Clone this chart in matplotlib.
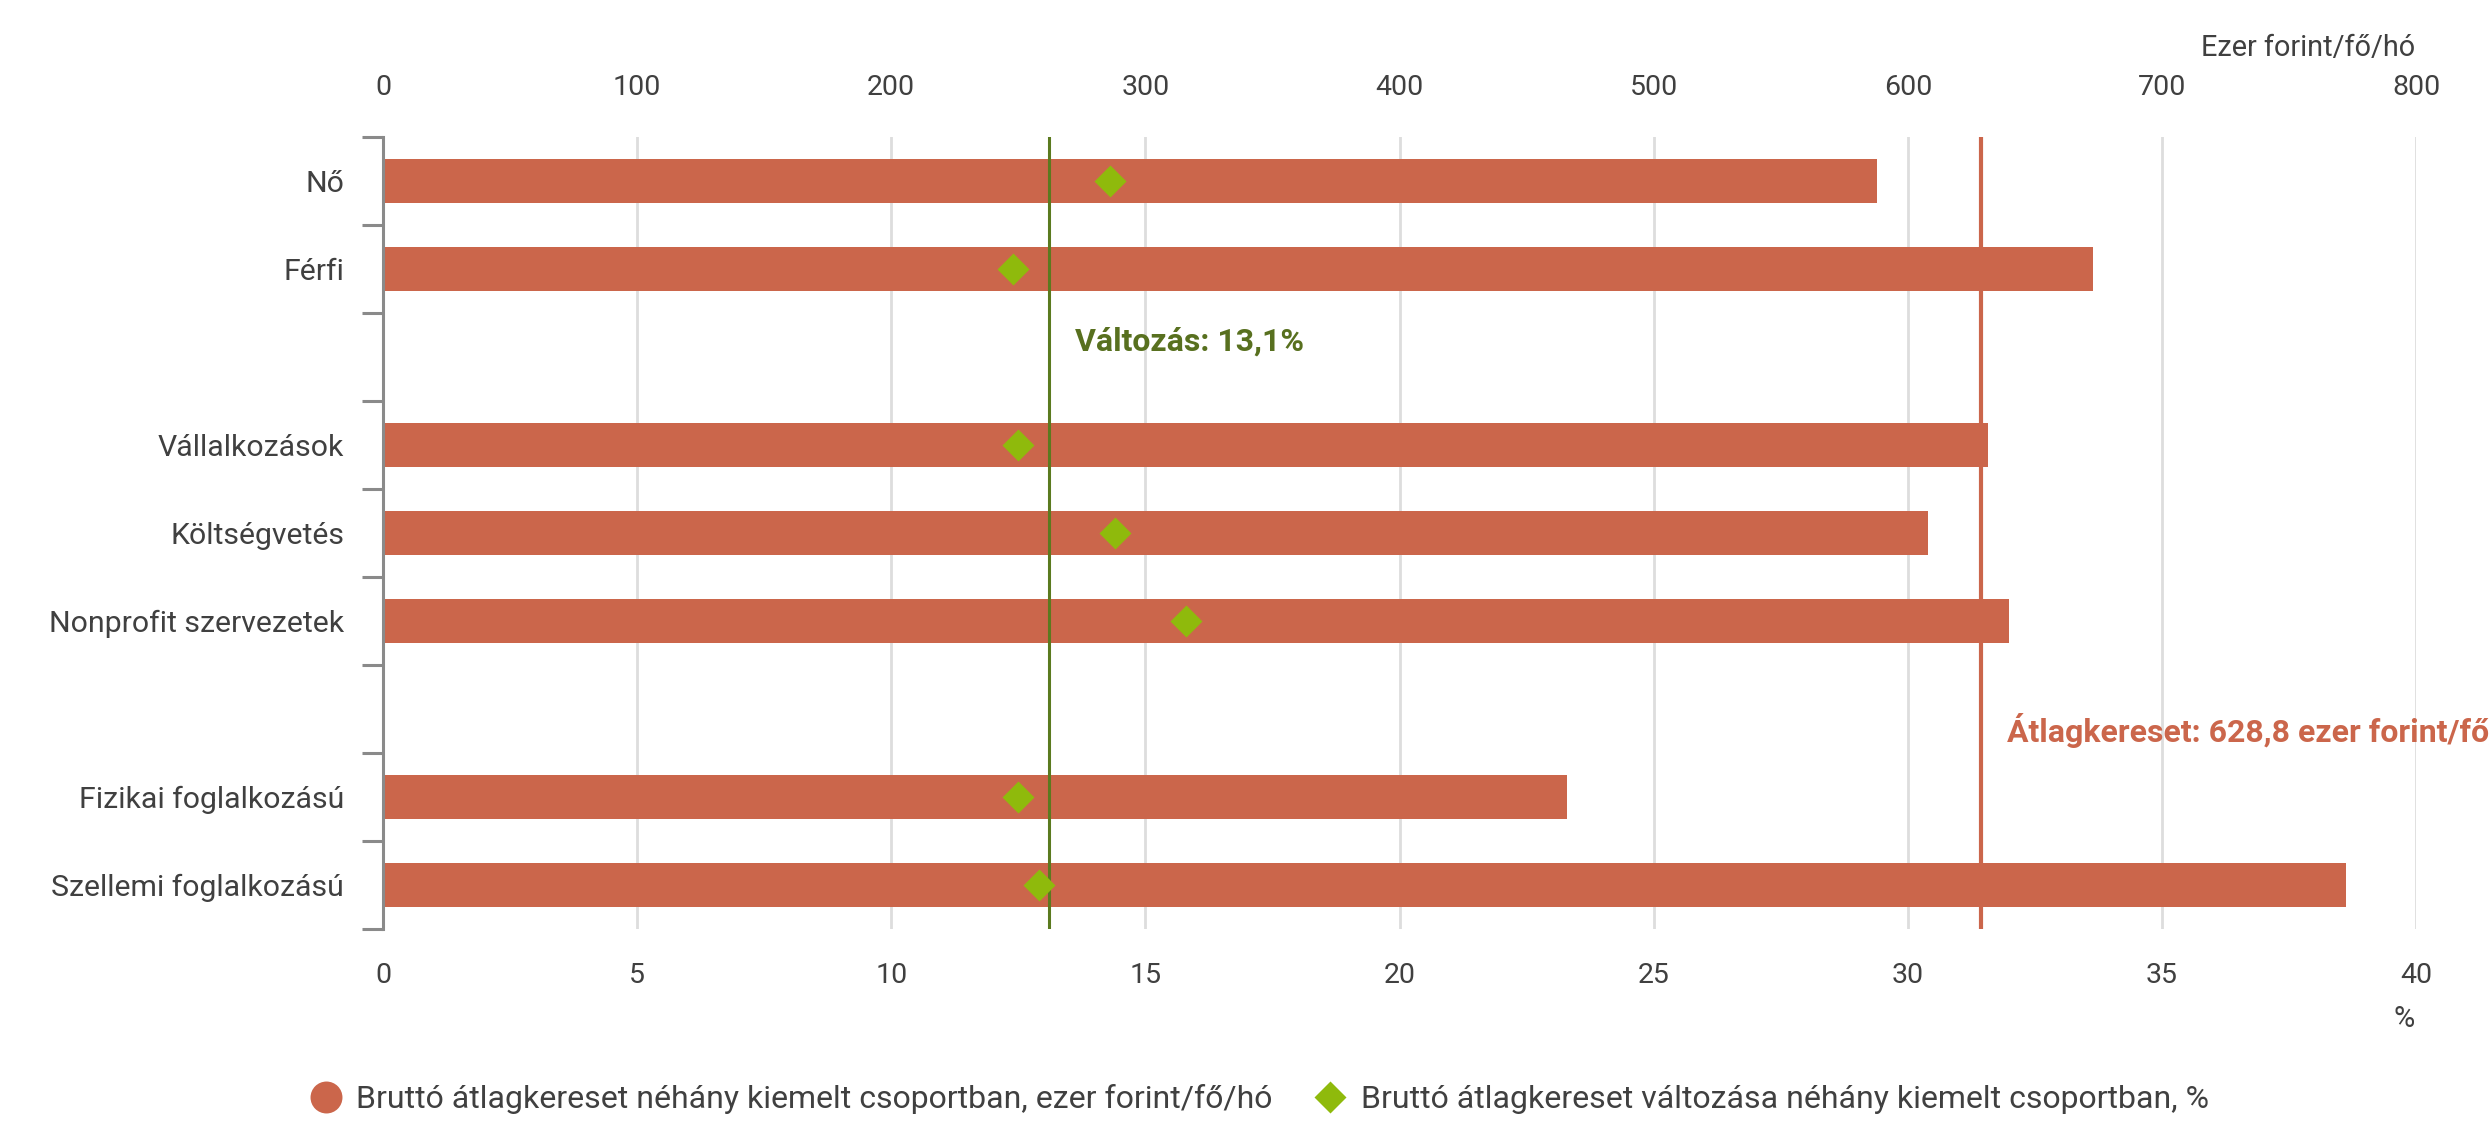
import numpy as np
import matplotlib
matplotlib.use("Agg")
import matplotlib.pyplot as plt
from matplotlib.lines import Line2D

plt.rcParams['font.family'] = ['Roboto', 'DejaVu Sans']

# data (blank entries are the gaps between the groups)
categories = ["Nő", "Férfi", "", "Vállalkozások", "Költségvetés", "Nonprofit szervezetek",
              "", "Fizikai foglalkozású", "Szellemi foglalkozású"]
salary = [588, 673, np.nan, 631.5, 608, 640, np.nan, 466, 772.5]      # ezer forint/fő/hó
change = [14.3, 12.4, np.nan, 12.5, 14.4, 15.8, np.nan, 12.5, 12.9]   # %
avg_salary = 628.8
avg_change = 13.1

salary_ticks = [0, 100, 200, 300, 400, 500, 600, 700, 800]
pct_ticks = [0, 5, 10, 15, 20, 25, 30, 35, 40]

bar_col = "#cb664b"
dia_col = "#8fba0c"
green_line = "#5b7a1f"
txt_col = "#404040"

fig = plt.figure(figsize=(24.89, 11.26), dpi=100)
ax = fig.add_axes([0.1539, 0.175, 0.8168, 0.7033])
ax2 = ax.twiny()

y = np.arange(len(categories))
ax.barh(y, salary, height=0.49, color=bar_col, zorder=2)
ax.axvline(avg_salary, color=bar_col, lw=3, zorder=3)

ax2.axvline(avg_change, color=green_line, lw=2.2, zorder=3)
ax2.plot(change, y, linestyle="none", marker="D", ms=16, color=dia_col, mec="none", zorder=4)

ax.set_xlim(0, 800)
ax2.set_xlim(0, 40)
ax.set_ylim(len(categories) - 0.5, -0.5)

# top axis: salary
ax.xaxis.tick_top()
ax.set_xticks(salary_ticks)
ax.tick_params(axis="x", length=0, pad=26, labelsize=20.5, labelcolor=txt_col)
ax.grid(axis="x", color="#dddddd", lw=2, zorder=0)
ax.set_axisbelow(True)

# bottom axis: percent
ax2.xaxis.set_ticks_position("bottom")
ax2.xaxis.set_label_position("bottom")
ax2.set_xticks(pct_ticks)
ax2.tick_params(axis="x", length=0, pad=24, labelsize=20.5, labelcolor=txt_col)

# category axis
ax.set_yticks(y)
ax.set_yticklabels(categories)
ax.set_yticks(np.arange(len(categories) + 1) - 0.5, minor=True)
ax.tick_params(axis="y", which="major", length=0, pad=28, labelsize=21.8, labelcolor=txt_col)
ax.tick_params(axis="y", which="minor", length=15, width=2.2, color="#8a8a8a")

for a in (ax, ax2):
    for s in ["top", "right", "bottom"]:
        a.spines[s].set_visible(False)
ax2.spines["left"].set_visible(False)
ax.spines["left"].set_color("#8a8a8a")
ax.spines["left"].set_linewidth(2.2)

ax2.annotate("Változás: 13,1%", xy=(avg_change, 1.82), xytext=(19, 0), textcoords="offset points",
             ha="left", va="center", fontsize=23, fontweight="bold", color="#58701f")
ax.annotate("Átlagkereset: 628,8 ezer forint/fő/hó", xy=(avg_salary, 6.24), xytext=(19, 0),
            textcoords="offset points", ha="left", va="center", fontsize=23,
            fontweight="bold", color=bar_col, annotation_clip=False)

fig.text(0.9703, 1 - 48 / 1126, "Ezer forint/fő/hó", ha="right", va="center", fontsize=20.8, color=txt_col)
fig.text(0.9703, 1 - 1019 / 1126, "%", ha="right", va="center", fontsize=20.8, color=txt_col)

handles = [
    Line2D([], [], linestyle="none", marker="o", ms=23, color=bar_col, mec="none"),
    Line2D([], [], linestyle="none", marker="D", ms=16, color=dia_col, mec="none"),
]
labels = ["Bruttó átlagkereset néhány kiemelt csoportban, ezer forint/fő/hó",
          "Bruttó átlagkereset változása néhány kiemelt csoportban, %"]
fig.legend(handles, labels, loc="center", bbox_to_anchor=(0.506, 1 - 1099 / 1126), ncol=2,
           frameon=False, fontsize=23, labelcolor=txt_col, handletextpad=0.45,
           columnspacing=1.3, handlelength=1.0)

fig.savefig("out.png", dpi=100)
